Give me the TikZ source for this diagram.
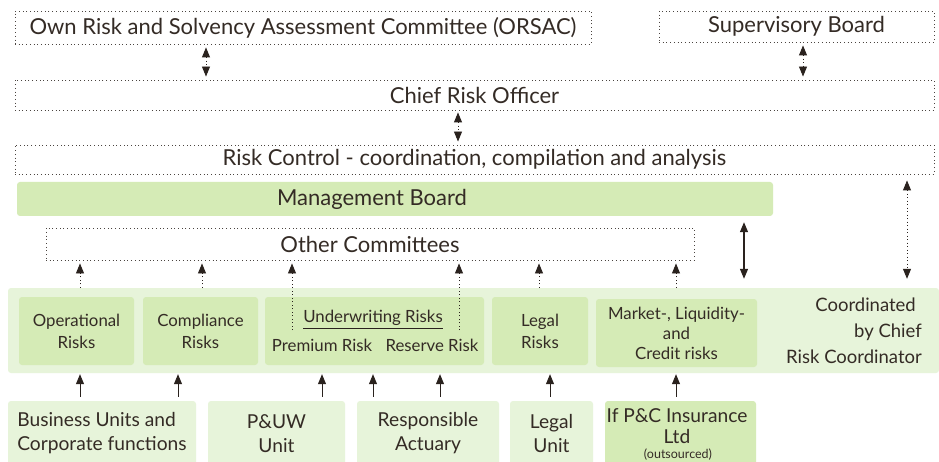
\documentclass[tikz,border=0pt]{standalone}
\usepackage{fontspec}
\setmainfont{Lato}
\usetikzlibrary{arrows.meta}
\definecolor{txt}{HTML}{342B25}
\definecolor{arr}{HTML}{2A221E}
\definecolor{gA}{HTML}{D5EBB6}
\definecolor{gB}{HTML}{E7F4DA}
\definecolor{dotc}{HTML}{4A4440}
\begin{document}
\begin{tikzpicture}[x=1pt,y=-1pt,
  every node/.style={text=txt, inner sep=0pt},
  dotbox/.style={draw=dotc, line width=0.9pt, dash pattern=on 0.9pt off 2.8pt},
  gbox/.style={fill=gA, rounded corners=3pt},
  lbox/.style={fill=gB, rounded corners=3pt},
  big/.style={font=\fontsize{22}{26}\selectfont},
  mid/.style={font=\fontsize{16.8}{22}\selectfont, align=center},
  low/.style={font=\fontsize{19.2}{24}\selectfont, align=center},
  dotl/.style={draw=arr, line width=0.9pt, dash pattern=on 0.9pt off 2.6pt},
  soll/.style={draw=arr, line width=1.2pt},
  >={Triangle[length=10pt,width=8pt]}
]
\useasboundingbox (0,0) rectangle (939,462);
\fill[white] (0,0) rectangle (939,462);

% top boxes
\node[dotbox, big, minimum width=576pt, minimum height=33pt] (orsac) at (303,27.5) {Own Risk and Solvency Assessment Committee (ORSAC)};
\node[dotbox, big, minimum width=275pt, minimum height=31pt] (sup) at (796.5,26.5) {Supervisory Board};
\node[dotbox, big, minimum width=919pt, minimum height=30pt] (cro) at (474.5,95) {Chief Risk Officer};
\node[dotbox, big, minimum width=919pt, minimum height=29pt] (rc) at (474.5,159.5) {Risk Control - coordination, compilation and analysis};
\node[gbox, big, minimum width=756pt, minimum height=34pt] (mb) at (395,199) {Management Board\hspace*{46pt}};
\node[dotbox, big, minimum width=648pt, minimum height=32pt] (oc) at (370,244) {Other Committees};

% band
\node[lbox, minimum width=931pt, minimum height=85pt] (band) at (473.5,330.5) {};
\node[gbox, mid, minimum width=115pt, minimum height=68pt] (opr) at (76.5,331) {Operational\\Risks};
\node[gbox, mid, minimum width=115pt, minimum height=68pt] (comp) at (200.5,331) {Compliance\\Risks};
\node[gbox, minimum width=219pt, minimum height=68pt] (uw) at (374.5,331) {};
\node[mid] (uwt) at (373,318) {Underwriting Risks};
\draw[arr, line width=0.9pt] (uwt.south west) ++(0,2.5) coordinate (ul1) (ul1) -- (ul1 -| uwt.south east);
\node[mid] (prem) at (322,345) {Premium Risk};
\node[mid] (resv) at (432,345) {Reserve Risk};
\node[gbox, mid, minimum width=96pt, minimum height=68pt] (legal) at (540,331) {Legal\\Risks};
\node[gbox, mid, minimum width=161pt, minimum height=68pt, font=\fontsize{16.8}{20}\selectfont] (mkt) at (676.5,333) {Market-, Liquidity-\\and\\Credit risks};
\node[font=\fontsize{18.5}{26}\selectfont, align=right, anchor=east] (coord) at (922,331) {Coordinated\hspace*{6pt}\\by Chief\\Risk Coordinator};

% bottom boxes
\node[lbox, low, minimum width=188pt, minimum height=65pt, align=left] (bu) at (102,433.5) {Business Units and\\Corporate functions};
\node[lbox, low, minimum width=137pt, minimum height=65pt] (puw) at (276.5,433.5) {P\&UW\\Unit};
\node[lbox, low, minimum width=142pt, minimum height=65pt] (ra) at (428,433.5) {Responsible\\Actuary};
\node[lbox, low, minimum width=83pt, minimum height=65pt] (lu) at (551.5,433.5) {Legal\\Unit};
\node[gbox, minimum width=151pt, minimum height=65pt] (ifp) at (680.5,433.5) {};
\node[low, font=\fontsize{19.2}{21}\selectfont] (ifpt) at (677,426) {If P\&C Insurance\\Ltd};
\node[font=\fontsize{12.5}{14}\selectfont] (outs) at (678,455) {(outsourced)};

% x coordinates
\foreach \n/\x in {a/206,b/803,c/458,d/744,e/907,f/80,g/202,h/292,i/459,j/539,k/676,l/178,m/322,n/373,o/440,p/550}
  \coordinate (x\n) at (\x,0);

% vertical double arrows
\draw[dotl,<->, shorten <=3pt, shorten >=3pt] (orsac.south -| xa) -- (cro.north -| xa);
\draw[dotl,<->, shorten <=3pt, shorten >=3pt] (sup.south -| xb) -- (cro.north -| xb);
\draw[dotl,<->, shorten <=2pt, shorten >=3pt] (cro.south -| xc) -- (rc.north -| xc);
\draw[soll,<->, shorten <=6pt, shorten >=9pt] (mb.south -| xd) -- (band.north -| xd);
\draw[dotl,<->, shorten <=6pt, shorten >=9pt] (rc.south -| xe) -- (band.north -| xe);

% up to other committees
\coordinate (uwl) at (292,330);
\coordinate (uwr) at (459,330);
\draw[dotl,->, shorten >=3pt] (band.north -| xf) -- (oc.south -| xf);
\draw[dotl,->, shorten >=3pt] (band.north -| xg) -- (oc.south -| xg);
\draw[dotl,->, shorten >=3pt] (uwl) -- (oc.south -| xh);
\draw[dotl,->, shorten >=3pt] (uwr) -- (oc.south -| xi);
\draw[dotl,->, shorten >=3pt] (band.north -| xj) -- (oc.south -| xj);
\draw[dotl,->, shorten >=3pt] (band.north -| xk) -- (oc.south -| xk);

% bottom arrows
\draw[soll,->, line width=0.9pt, shorten <=4pt, shorten >=1pt] (bu.north -| xf) -- (band.south -| xf);
\draw[soll,->, line width=0.9pt, shorten <=4pt, shorten >=1pt] (bu.north -| xl) -- (band.south -| xl);
\draw[soll,->, line width=0.9pt, shorten <=4pt, shorten >=1pt] (puw.north -| xm) -- (band.south -| xm);
\draw[soll,->, line width=0.9pt, shorten <=4pt, shorten >=1pt] (ra.north -| xn) -- (band.south -| xn);
\draw[soll,->, line width=0.9pt, shorten <=4pt, shorten >=1pt] (ra.north -| xo) -- (band.south -| xo);
\draw[soll,->, line width=0.9pt, shorten <=4pt, shorten >=1pt] (lu.north -| xp) -- (band.south -| xp);
\draw[soll,->, line width=0.9pt, shorten <=4pt, shorten >=1pt] (ifp.north -| xk) -- (band.south -| xk);
\end{tikzpicture}
\end{document}
